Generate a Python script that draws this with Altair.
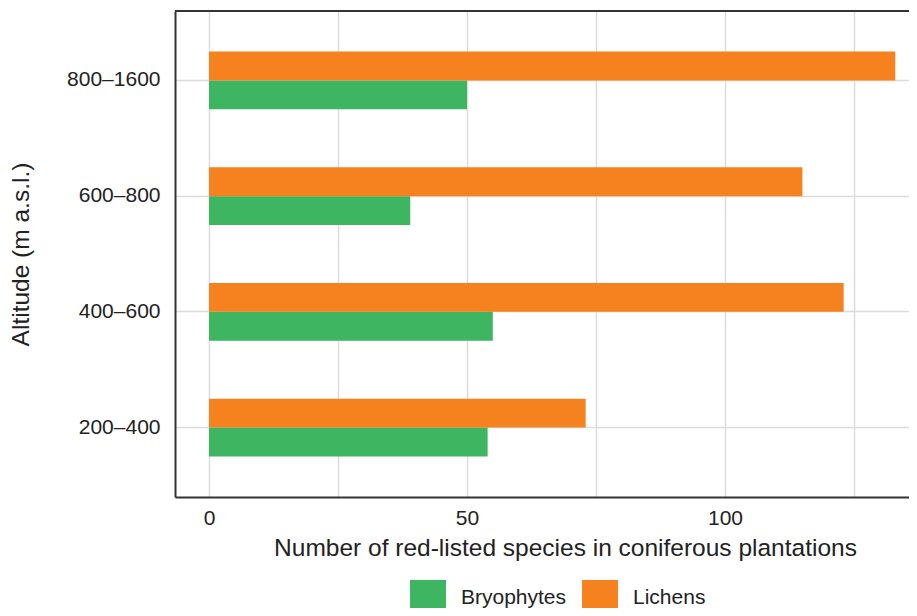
import altair as alt
import pandas as pd

altitudes = ["200–400", "400–600", "600–800", "800–1600"]
bryophytes = [54, 55, 39, 50]
lichens = [73, 123, 115, 133]

groups = ["Bryophytes", "Lichens"]
colors = ["#3DB561", "#F5821F"]

rows = []
for a, b, l in zip(altitudes, bryophytes, lichens):
    rows.append({"altitude": a, "group": "Bryophytes", "n": b})
    rows.append({"altitude": a, "group": "Lichens", "n": l})
df = pd.DataFrame(rows)

FONT = "Liberation Sans"
W, H = 734, 486
TICK_FS = 21
TITLE_FS = 24.5

bars = alt.Chart(df).mark_bar().encode(
    y=alt.Y(
        "altitude:N",
        sort=list(reversed(altitudes)),
        scale=alt.Scale(paddingInner=0.5, paddingOuter=0.35),
        axis=alt.Axis(
            title="Altitude (m a.s.l.)",
            ticks=False,
            domain=True,
            domainColor="#333333",
            domainWidth=2,
            grid=True,
            gridColor="#dcdcdc",
            gridWidth=1.5,
            bandPosition=0.5,
            labelFont=FONT,
            labelFontSize=TICK_FS,
            labelColor="#222222",
            labelPadding=15,
            titleFont=FONT,
            titleFontSize=TITLE_FS,
            titleFontWeight="normal",
            titleColor="#222222",
            titlePadding=33,
        ),
    ),
    x=alt.X(
        "n:Q",
        scale=alt.Scale(domain=[-6.59, 135.66], nice=False, zero=False),
        axis=alt.Axis(
            title="Number of red-listed species in coniferous plantations",
            values=[0, 25, 50, 75, 100, 125],
            labelExpr="datum.value % 50 == 0 ? datum.label : ''",
            ticks=False,
            domain=True,
            domainColor="#333333",
            domainWidth=2,
            grid=True,
            gridColor="#dcdcdc",
            gridWidth=1.5,
            labelFont=FONT,
            labelFontSize=TICK_FS,
            labelColor="#222222",
            labelPadding=10,
            labelFlush=False,
            titleFont=FONT,
            titleFontSize=TITLE_FS,
            titleFontWeight="normal",
            titleColor="#222222",
            titlePadding=8,
            titleX=390,
            titleAlign="center",
        ),
    ),
    x2=alt.X2Datum(0),
    yOffset=alt.YOffset("group:N", sort=["Lichens", "Bryophytes"]),
    color=alt.Color(
        "group:N",
        scale=alt.Scale(domain=groups, range=colors),
        legend=alt.Legend(
            title=None,
            orient="none",
            direction="horizontal",
            legendX=235,
            legendY=569,
            symbolType="square",
            symbolSize=1296,
            symbolStrokeWidth=0,
            symbolOpacity=1,
            labelFont=FONT,
            labelFontSize=TICK_FS,
            labelColor="#222222",
            labelOffset=15,
            columnPadding=15,
            padding=0,
        ),
    ),
)

top_rule = alt.Chart(pd.DataFrame({"k": [0]})).mark_rule(
    color="#333333", strokeWidth=2
).encode(y=alt.value(0), x=alt.value(0), x2=alt.value(W))

chart = alt.layer(bars, top_rule).properties(
    width=W,
    height=H,
    autosize=alt.AutoSizeParams(type="none"),
    padding={"left": 167, "top": 3, "right": 0, "bottom": 111},
).configure_view(stroke=None)

chart.save("out.html", embed_options={"renderer": "svg", "actions": False})
